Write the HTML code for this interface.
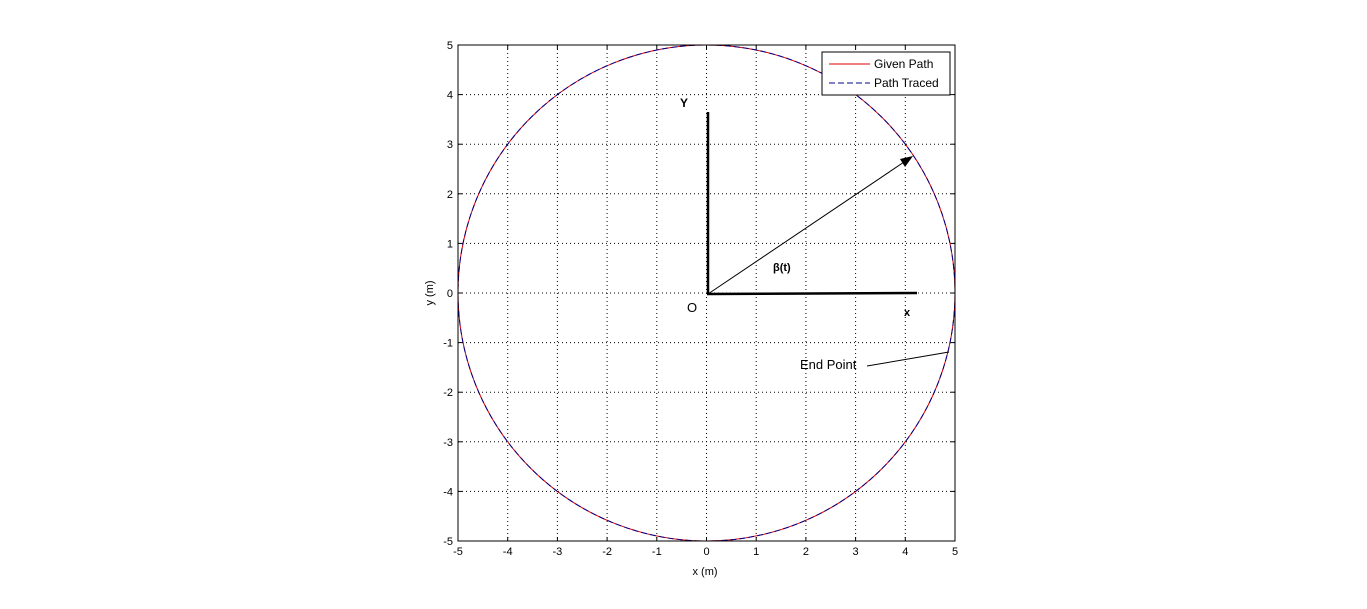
<!DOCTYPE html>
<html><head><meta charset="utf-8"><style>
body{margin:0;background:#fff;}
svg{display:block;font-family:"Liberation Sans",Arial,sans-serif;}
</style></head><body>
<svg id="chart" width="1367" height="609">
<g id="grid"></g>
<g id="series"></g>
<g id="axes"></g>
</svg>
<script>
const xTicks=[-5,-4,-3,-2,-1,0,1,2,3,4,5];
const yTicks=[-5,-4,-3,-2,-1,0,1,2,3,4,5];
const circleCenter=[0,0];
const circleRadius=[5];
const L=458,R=955,T=45,B=541;
function sx(v){return L+(v+5)/10*(R-L);}
function sy(v){return B-(v+5)/10*(B-T);}
const NS="http://www.w3.org/2000/svg";
function mk(tag,attrs,parent,text){const e=document.createElementNS(NS,tag);for(const k in attrs)e.setAttribute(k,attrs[k]);if(text!==undefined)e.textContent=text;parent.appendChild(e);return e;}
const grid=document.getElementById('grid'),ser=document.getElementById('series'),ax=document.getElementById('axes');
mk('rect',{x:L,y:T,width:R-L,height:B-T,fill:'#fff'},grid);
xTicks.forEach(t=>{
 const l=mk('line',{x1:sx(t),x2:sx(t),y1:T,y2:B,stroke:'#000','stroke-width':1,'stroke-dasharray':'1,3'},grid);
 
 
 const tx=mk('text',{x:sx(t),y:B+14,'font-size':11,'text-anchor':'middle'},ax,String(t));
 
 
 mk('line',{x1:sx(t),x2:sx(t),y1:B,y2:B-4,stroke:'#000'},ax);
 mk('line',{x1:sx(t),x2:sx(t),y1:T,y2:T+4,stroke:'#000'},ax);
});
yTicks.forEach(t=>{
 const l=mk('line',{x1:L,x2:R,y1:sy(t),y2:sy(t),stroke:'#000','stroke-width':1,'stroke-dasharray':'1,3'},grid);
 
 
 const tx=mk('text',{x:L-5,y:sy(t)+4,'font-size':11,'text-anchor':'end'},ax,String(t));
 
 
 mk('line',{x1:L,x2:L+4,y1:sy(t),y2:sy(t),stroke:'#000'},ax);
 mk('line',{x1:R,x2:R-4,y1:sy(t),y2:sy(t),stroke:'#000'},ax);
});
const cx=sx(circleCenter[0]),cy=sy(circleCenter[1]);
const rx=sx(circleRadius[0])-sx(0),ry=sy(0)-sy(circleRadius[0]);
const g1=mk('ellipse',{cx:cx,cy:cy,rx:rx,ry:ry,fill:'none',stroke:'#e00000','stroke-width':1},ser);


const g2=mk('ellipse',{cx:cx,cy:cy,rx:rx,ry:ry,fill:'none',stroke:'#00008b','stroke-width':1,'stroke-dasharray':'6,3'},ser);


mk('rect',{x:L,y:T,width:R-L,height:B-T,fill:'none',stroke:'#000'},ax);
</script>
<svg width="1367" height="609" style="position:absolute;left:0;top:0" font-family="Liberation Sans, Arial, sans-serif">
<g>
<line x1="708" y1="112" x2="708" y2="294" stroke="#000" stroke-width="2.5"/>
<line x1="707" y1="294" x2="917" y2="293" stroke="#000" stroke-width="2.5"/>
<line x1="708" y1="294" x2="910" y2="158" stroke="#000" stroke-width="1"/>
<polygon points="913,156 900,159 905,167" fill="#000"/>
<text x="680" y="107" font-size="12" font-weight="bold">Y</text>
<text x="687" y="312" font-size="13">O</text>
<text x="904" y="316" font-size="11" font-weight="bold">x</text>
<text x="773" y="271" font-size="11" font-weight="bold">β(t)</text>
<text x="800" y="369" font-size="13">End Point</text>
<line x1="867" y1="366" x2="949" y2="352" stroke="#000"/>
</g>
<g>
<rect x="822" y="52" width="128" height="43" fill="#fff" stroke="#000"/>
<line x1="829" y1="64" x2="870" y2="64" stroke="#e00000"/>
<text x="874" y="68" font-size="12">Given Path</text>
<line x1="829" y1="83" x2="870" y2="83" stroke="#00008b" stroke-dasharray="6,3"/>
<text x="874" y="87" font-size="12">Path Traced</text>
</g>
<text x="705" y="575" font-size="11" text-anchor="middle">x (m)</text>
<text x="433" y="293" font-size="11" text-anchor="middle" transform="rotate(-90 433 293)">y (m)</text>
</svg>
</body></html>
